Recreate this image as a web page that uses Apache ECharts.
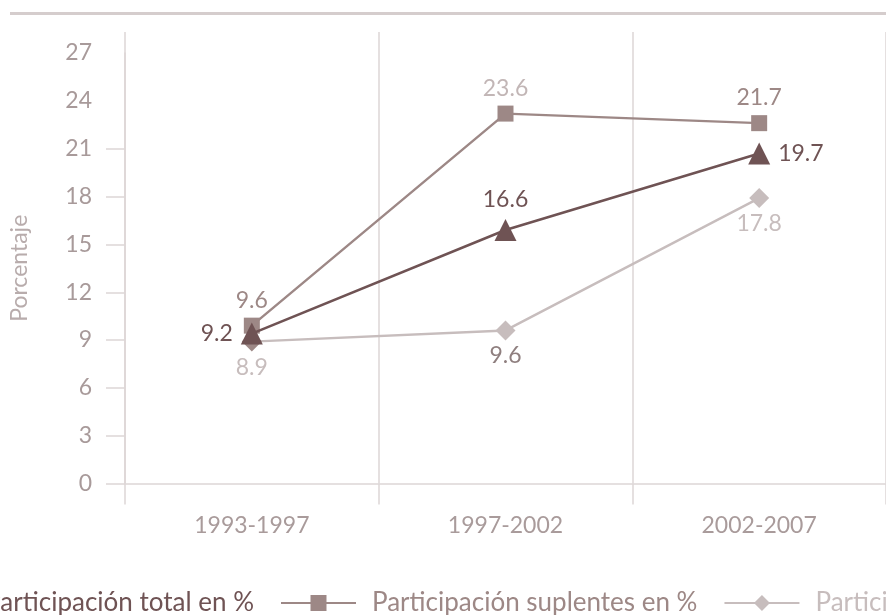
<!DOCTYPE html>
<html>
<head>
<meta charset="utf-8">
<script src="https://cdn.jsdelivr.net/npm/echarts@6/dist/echarts.min.js"></script>
<style>
html,body{margin:0;padding:0;background:#fff;}
#chart{width:886px;height:615px;}
</style>
</head>
<body>
<div id="chart"></div>
<script>
// ---- data ----
var categories = ['1993-1997', '1997-2002', '2002-2007'];
var seriesNames = ['Participación total en %', 'Participación suplentes en %', 'Participación propietarios en %'];
// plotted positions
var totalValues = [9.4, 15.9, 20.7];
var suplentesValues = [9.9, 23.2, 22.6];
var propietariosValues = [8.9, 9.6, 17.9];
// printed labels
var totalLabels = ['9.2', '16.6', '19.7'];
var suplentesLabels = ['9.6', '23.6', '21.7'];
var propietariosLabels = ['8.9', '9.6', '17.8'];
var yTicks = [0, 27, 3];

var FONT = 'Lato';
var DARK = '#6f5354', MED = '#9d8886', LIGHT = '#c7bdbd';
var AXISC = '#ddd6d6';
var LEGEND_FS = 26;
var LEGEND_GAP = 26;

function measure(t, size) {
  var c = document.createElement('canvas').getContext('2d');
  c.font = size + 'px ' + FONT;
  return c.measureText(t).width;
}
var legendLeft = 279 - LEGEND_GAP - measure(seriesNames[0], LEGEND_FS) - 91;

function items(values, labels, labelColors, pos, itemColors) {
  return values.map(function (v, i) {
    var o = { value: v, label: { formatter: labels[i], color: labelColors[i], position: pos[i] } };
    if (itemColors && itemColors[i]) o.itemStyle = { color: itemColors[i] };
    return o;
  });
}

var chart = echarts.init(document.getElementById('chart'), null, { renderer: 'canvas' });
var option = {
  animation: false,
  backgroundColor: '#fff',
  textStyle: { fontFamily: FONT },
  graphic: [{
    type: 'line', shape: { x1: 10, y1: 13.5, x2: 886, y2: 13.5 },
    style: { stroke: '#d5cdcd', lineWidth: 3 }, silent: true
  }],
  grid: [
    { left: 125, right: -8.5, top: 53, bottom: 131.5 },
    { left: 125, right: -8.5, top: 149, bottom: 131.5 }
  ],
  legend: {
    left: legendLeft, top: 590, padding: 0, width: 2000, orient: 'horizontal',
    itemWidth: 75, itemHeight: 20, itemGap: LEGEND_GAP,
    textStyle: { fontFamily: FONT, fontSize: LEGEND_FS, padding: [0, 0, 0, 11] },
    data: [
      { name: seriesNames[0], textStyle: { color: DARK } },
      { name: seriesNames[1], textStyle: { color: MED } },
      { name: seriesNames[2], textStyle: { color: LIGHT } }
    ]
  },
  xAxis: [
    {
      type: 'category', gridIndex: 0, data: categories, boundaryGap: true,
      axisLine: { show: true, lineStyle: { color: AXISC, width: 1.5 } },
      axisTick: { show: true, length: 21, lineStyle: { color: AXISC, width: 1.5 } },
      axisLabel: { color: '#a99b9b', fontSize: 23, fontFamily: FONT, margin: 31 },
      splitLine: { show: true, lineStyle: { color: AXISC, width: 1.5 } }
    },
    {
      type: 'category', gridIndex: 0, position: 'top', data: categories, boundaryGap: true,
      axisLine: { show: false },
      axisTick: { show: true, length: 21, lineStyle: { color: AXISC, width: 1.5 } },
      axisLabel: { show: false },
      splitLine: { show: false }
    },
    { type: 'value', gridIndex: 1, show: false, min: 0, max: 1 }
  ],
  yAxis: [
    {
      type: 'value', gridIndex: 0, min: yTicks[0], max: yTicks[1], interval: yTicks[2],
      name: 'Porcentaje', nameLocation: 'middle', nameGap: 94, nameRotate: 90,
      nameTextStyle: { color: '#b8acac', fontSize: 23, fontFamily: FONT },
      axisLine: { show: true, lineStyle: { color: AXISC, width: 1.5 } },
      axisTick: { show: false },
      axisLabel: { color: '#a89a9a', fontSize: 23, fontFamily: FONT, margin: 33 },
      splitLine: { show: false }
    },
    {
      type: 'value', gridIndex: 1, min: 0, max: 21, interval: 3,
      axisLine: { show: false },
      axisTick: { show: true, length: 19, lineStyle: { color: AXISC, width: 1.5 } },
      axisLabel: { show: false },
      splitLine: { show: false }
    }
  ],
  series: [
    {
      name: seriesNames[2], type: 'line', xAxisIndex: 0, yAxisIndex: 0,
      symbol: 'diamond', symbolSize: 20, z: 2,
      itemStyle: { color: LIGHT }, lineStyle: { color: LIGHT, width: 2.4 },
      label: { show: true, fontSize: 23, fontFamily: FONT, distance: 4 },
      data: items(propietariosValues, propietariosLabels, [LIGHT, '#8f7f7f', LIGHT], ['bottom', 'bottom', 'bottom'], [MED, null, null])
    },
    {
      name: seriesNames[1], type: 'line', xAxisIndex: 0, yAxisIndex: 0,
      symbol: 'rect', symbolSize: 16, z: 3,
      itemStyle: { color: MED }, lineStyle: { color: MED, width: 2.4 },
      label: { show: true, fontSize: 23, fontFamily: FONT, distance: 6 },
      data: items(suplentesValues, suplentesLabels, [MED, '#c2b6b6', MED], ['top', 'top', 'top'])
    },
    {
      name: seriesNames[0], type: 'line', xAxisIndex: 0, yAxisIndex: 0,
      symbol: 'triangle', symbolSize: 22, z: 4,
      itemStyle: { color: DARK }, lineStyle: { color: DARK, width: 2.6 },
      label: { show: true, fontSize: 23, fontFamily: FONT, distance: 8 },
      data: items(totalValues, totalLabels, [DARK, DARK, DARK], ['left', 'top', 'right'])
    }
  ]
};
chart.setOption(option);
</script>
</body>
</html>
